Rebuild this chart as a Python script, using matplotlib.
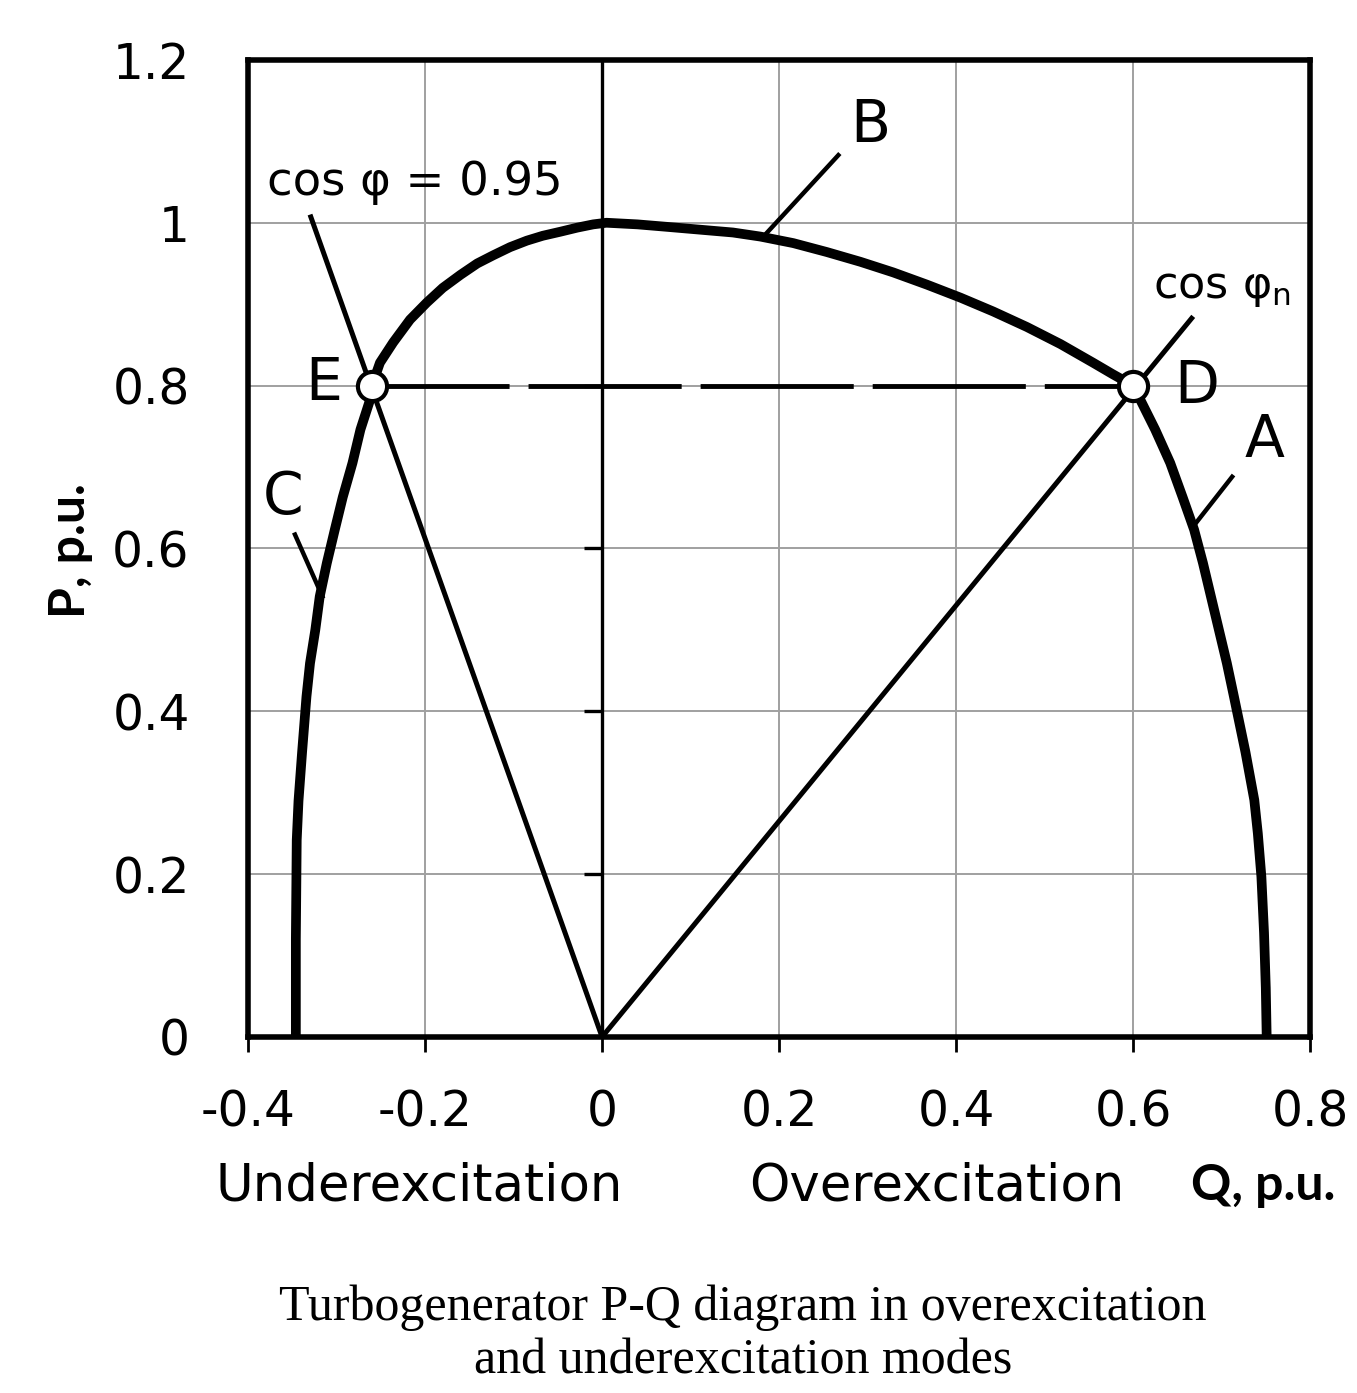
import numpy as np
import matplotlib
matplotlib.use("Agg")
import matplotlib.pyplot as plt

# P-Q capability curve (Q, P in p.u.)
# A: stator current limit, D -> Q axis
curve_a_q = [0.600, 0.608, 0.625, 0.642, 0.656, 0.669, 0.679, 0.688, 0.697, 0.706, 0.714,
             0.727, 0.737, 0.741, 0.745, 0.748, 0.750, 0.751]
curve_a_p = [0.800, 0.783, 0.746, 0.705, 0.663, 0.623, 0.582, 0.541, 0.500, 0.459, 0.418,
             0.350, 0.291, 0.250, 0.197, 0.128, 0.060, 0.000]
# B: rotor current limit, E -> top -> D
curve_b_q = [-0.260, -0.251, -0.236, -0.217, -0.198, -0.180, -0.160, -0.141, -0.123, -0.104,
             -0.085, -0.067, -0.047, -0.028, -0.010, 0.005, 0.040,
             0.073, 0.148, 0.179, 0.216, 0.254, 0.292, 0.329, 0.367, 0.405, 0.442,
             0.480, 0.518, 0.555, 0.577, 0.600]
curve_b_p = [0.800, 0.828, 0.853, 0.881, 0.902, 0.920, 0.936, 0.950, 0.960, 0.970,
             0.978, 0.984, 0.989, 0.994, 0.998, 1.000, 0.998,
             0.995, 0.988, 0.983, 0.975, 0.964, 0.952, 0.939, 0.924, 0.908, 0.891,
             0.872, 0.851, 0.828, 0.814, 0.800]
# C: underexcitation limit, Q axis -> E
curve_c_q = [-0.346, -0.346, -0.345, -0.343, -0.339, -0.334, -0.330, -0.324, -0.319,
             -0.311, -0.302, -0.293, -0.282, -0.273, -0.262, -0.260]
curve_c_p = [0.000, 0.120, 0.242, 0.290, 0.349, 0.418, 0.459, 0.500, 0.541,
             0.582, 0.623, 0.663, 0.705, 0.746, 0.783, 0.800]

point_e = (-0.260, 0.800)
point_d = (0.600, 0.800)

# power factor rays from the origin
ray_095_q = [0.0, -0.330]
ray_095_p = [0.0, 1.010]
ray_n_q = [0.0, 0.668]
ray_n_p = [0.0, 0.885]

x_ticks = [-0.4, -0.2, 0, 0.2, 0.4, 0.6, 0.8]
x_labels = ['-0.4', '-0.2', '0', '0.2', '0.4', '0.6', '0.8']
y_ticks = [0, 0.2, 0.4, 0.6, 0.8, 1.0, 1.2]
y_labels = ['0', '0.2', '0.4', '0.6', '0.8', '1', '1.2']
axis_ticks = [0.2, 0.4, 0.6, 0.8]

# curve letters and leader lines
letters = ['A', 'B', 'C', 'D', 'E']
letter_q = [0.749, 0.303, -0.360, 0.672, -0.315]
letter_p = [0.733, 1.120, 0.663, 0.799, 0.803]
leaders = {
    'A': ([0.668, 0.712], [0.627, 0.688]),
    'B': ([0.184, 0.267], [0.985, 1.083]),
    'C': ([-0.347, -0.316], [0.617, 0.541]),
}

plt.rcParams['font.family'] = ['DejaVu Sans']

fig = plt.figure(figsize=(13.57, 13.93), dpi=100)
ax = fig.add_axes([0.1828, 0.2556, 0.7826, 0.7014])

ax.set_xlim(-0.4, 0.8)
ax.set_ylim(0, 1.2)
ax.set_xticks(x_ticks)
ax.set_xticklabels(x_labels)
ax.set_yticks(y_ticks)
ax.set_yticklabels(y_labels)
ax.tick_params(axis='x', direction='out', length=11, width=2, pad=26, labelsize=35)
ax.tick_params(axis='y', length=0, pad=42, labelsize=35)
ax.grid(True, color='#a0a0a0', lw=1.4, zorder=0)
ax.set_axisbelow(True)
for s in ax.spines.values():
    s.set_linewidth(4)

# vertical axis through Q = 0 with its own small ticks
ax.axvline(0, color='black', lw=2.4, zorder=2)
ax.plot(np.zeros(len(axis_ticks)), axis_ticks, ls='none', marker=0, ms=13,
        mew=2.4, color='black', zorder=2)

ax.plot(ray_095_q, ray_095_p, color='black', lw=3.6, zorder=3, solid_capstyle='butt')
ax.plot(ray_n_q, ray_n_p, color='black', lw=3.6, zorder=3, solid_capstyle='butt')

ax.plot([point_e[0], point_d[0]], [point_e[1], point_d[1]], color='black', lw=3.5,
        ls=(3.3, (31.5, 3.9)), dash_capstyle='butt', zorder=3)

for q, p in [(curve_a_q, curve_a_p), (curve_b_q, curve_b_p), (curve_c_q, curve_c_p)]:
    ax.plot(q, p, color='black', lw=7, zorder=4, solid_joinstyle='round', solid_capstyle='butt')

for name, (lq, lp) in leaders.items():
    ax.plot(lq, lp, color='black', lw=3.2, zorder=4, clip_on=False)

ax.plot([point_e[0], point_d[0]], [point_e[1], point_d[1]], ls='none', marker='o', ms=21,
        mfc='white', mec='black', mew=3, zorder=6)

for t, q, p in zip(letters, letter_q, letter_p):
    ax.text(q, p, t, fontsize=42, ha='center', va='center', zorder=7)

ax.text(-0.211, 1.050, 'cos φ = 0.95', fontsize=33.5, ha='center', va='center', zorder=7)
ax.text(0.700, 0.921, r'cos φ$_\mathregular{n}$', fontsize=32, ha='center', va='center', zorder=7)

fig.text(0.309, 0.148, 'Underexcitation', fontsize=37, ha='center', va='center')
fig.text(0.690, 0.148, 'Overexcitation', fontsize=37, ha='center', va='center')
fig.text(0.878, 0.149, 'Q, p.u.', fontsize=36, fontweight='bold', family='Lato', ha='left', va='center')
fig.text(0.052, 0.605, 'P, p.u.', fontsize=36, fontweight='bold', family='Lato', rotation=90,
         ha='center', va='center')

fig.text(0.5475, 0.042, 'Turbogenerator P-Q diagram in overexcitation\nand underexcitation modes',
         fontsize=36, family='Liberation Serif', ha='center', va='center', linespacing=1.2)

fig.savefig('out.png', dpi=100)
